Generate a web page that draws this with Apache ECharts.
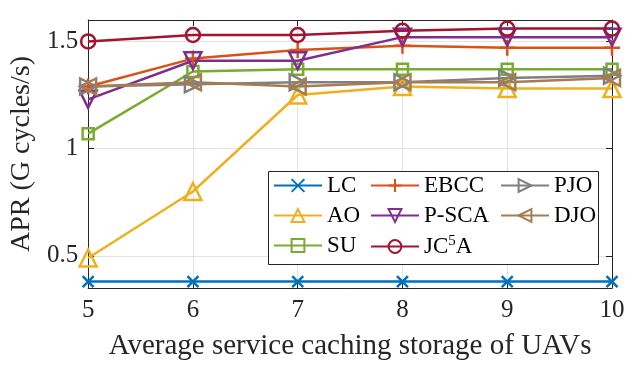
<!DOCTYPE html>
<html>
<head>
<meta charset="utf-8">
<script src="https://cdn.jsdelivr.net/npm/echarts@6/dist/echarts.min.js"></script>
<style>html,body{margin:0;padding:0;background:#fff}#c{width:637px;height:368px}</style>
</head>
<body>
<div id="c"></div>
<script>
const xValues = [5, 6, 7, 8, 9, 10];
const yTicks = [0.5, 1, 1.5];
const LC    = [0.38, 0.38, 0.38, 0.38, 0.38, 0.38];
const AO    = [0.49, 0.80, 1.25, 1.29, 1.28, 1.28];
const SU    = [1.07, 1.36, 1.37, 1.37, 1.37, 1.37];
const EBCC  = [1.29, 1.42, 1.46, 1.48, 1.47, 1.47];
const PSCA  = [1.23, 1.41, 1.41, 1.52, 1.52, 1.52];
const JC5A  = [1.50, 1.53, 1.53, 1.55, 1.56, 1.56];
const PJO   = [1.29, 1.30, 1.31, 1.31, 1.33, 1.34];
const DJO   = [1.29, 1.31, 1.29, 1.31, 1.31, 1.33];

const FONT = 'Liberation Serif';
const CROSS = 'path://M0,0L10,10M10,0L0,10';
const PLUS = 'path://M5,0L5,10M0,5L10,5';

function mk(name, data, color, symbol, size, rot) {
  return {
    name: name, type: 'line',
    data: xValues.map((x, i) => [x, data[i]]),
    symbol: symbol, symbolSize: size, symbolRotate: rot || 0,
    showAllSymbol: true,
    lineStyle: { color: color, width: 2.5 },
    itemStyle: { color: 'rgba(255,255,255,0)', borderColor: color, borderWidth: 2.5 },
    emphasis: { disabled: true },
    animation: false,
    xAxisIndex: 0, yAxisIndex: 0
  };
}

const series = [
  mk('LC', LC, '#0072BD', CROSS, 11),
  mk('AO', AO, '#EDB120', 'triangle', 17),
  mk('SU', SU, '#77AC30', 'rect', 11),
  mk('EBCC', EBCC, '#D95319', PLUS, 16),
  mk('P-SCA', PSCA, '#7E2F8E', 'triangle', 17, 180),
  mk('JC5A', JC5A, '#A2142F', 'circle', 14),
  mk('PJO', PJO, '#808080', 'triangle', 16, -90),
  mk('DJO', DJO, '#A67C52', 'triangle', 16, 90)
];

const legendText = {
  fontFamily: FONT, fontSize: 23, color: '#000',
  rich: {
    n: { fontFamily: FONT, fontSize: 23, color: '#000' },
    sup: { fontFamily: FONT, fontSize: 15, color: '#000', verticalAlign: 'top', padding: [0, 0, 10, 0] }
  }
};
function lg(data, left) {
  return {
    data: data, orient: 'vertical', left: left, top: 174, z: 10,
    itemWidth: 48, itemHeight: 16, itemGap: 7, padding: 0,
    textStyle: legendText,
    formatter: n => n === 'JC5A' ? '{n|JC}{sup|5}{n|A}' : '{n|' + n + '}',
    selectedMode: false
  };
}

const axLine = { show: true, lineStyle: { color: '#262626', width: 1 } };
const chart = echarts.init(document.getElementById('c'), null, { renderer: 'canvas' });
chart.setOption({
  backgroundColor: '#fff',
  animation: false,
  textStyle: { fontFamily: FONT },
  grid: { left: 87, right: 25, top: 20, bottom: 80 },
  xAxis: [
    { type: 'value', min: 5, max: 10, interval: 1, position: 'bottom',
      axisLine: axLine,
      axisTick: { show: true, inside: true, length: 6, lineStyle: { color: '#262626' } },
      axisLabel: { fontFamily: FONT, fontSize: 25, color: '#262626', margin: 10 },
      splitLine: { show: true, lineStyle: { color: '#e3e3e3', width: 1 } },
      name: 'Average service caching storage of UAVs', nameLocation: 'middle', nameGap: 44,
      nameTextStyle: { fontFamily: FONT, fontSize: 29, color: '#262626' } },
    { type: 'value', min: 5, max: 10, interval: 1, position: 'top',
      axisLine: axLine,
      axisTick: { show: true, inside: true, length: 6, lineStyle: { color: '#262626' } },
      axisLabel: { show: false }, splitLine: { show: false } }
  ],
  yAxis: [
    { type: 'value', min: 0.35, max: 1.6, position: 'left',
      axisLine: axLine,
      axisTick: { show: true, inside: true, length: 6, customValues: yTicks, lineStyle: { color: '#262626' } },
      axisLabel: { fontFamily: FONT, fontSize: 25, color: '#262626', margin: 10, customValues: yTicks },
      splitLine: { show: true, lineStyle: { color: '#e3e3e3', width: 1 } },
      name: 'APR (G cycles/s)', nameLocation: 'middle', nameGap: 31,
      nameTextStyle: { fontFamily: FONT, fontSize: 28, color: '#262626' } },
    { type: 'value', min: 0.35, max: 1.6, position: 'right',
      axisLine: axLine,
      axisTick: { show: true, inside: true, length: 6, customValues: yTicks, lineStyle: { color: '#262626' } },
      axisLabel: { show: false }, splitLine: { show: false } }
  ],
  legend: [
    lg(['LC', 'AO', 'SU'], 273),
    lg(['EBCC', 'P-SCA', 'JC5A'], 370),
    lg(['PJO', 'DJO'], 500)
  ],
  graphic: [
    { type: 'rect', left: 268, top: 171, shape: { width: 330, height: 93 },
      style: { fill: '#fff', stroke: '#262626', lineWidth: 1 }, z: 3 }
  ],
  series: series
});
</script>
</body>
</html>
